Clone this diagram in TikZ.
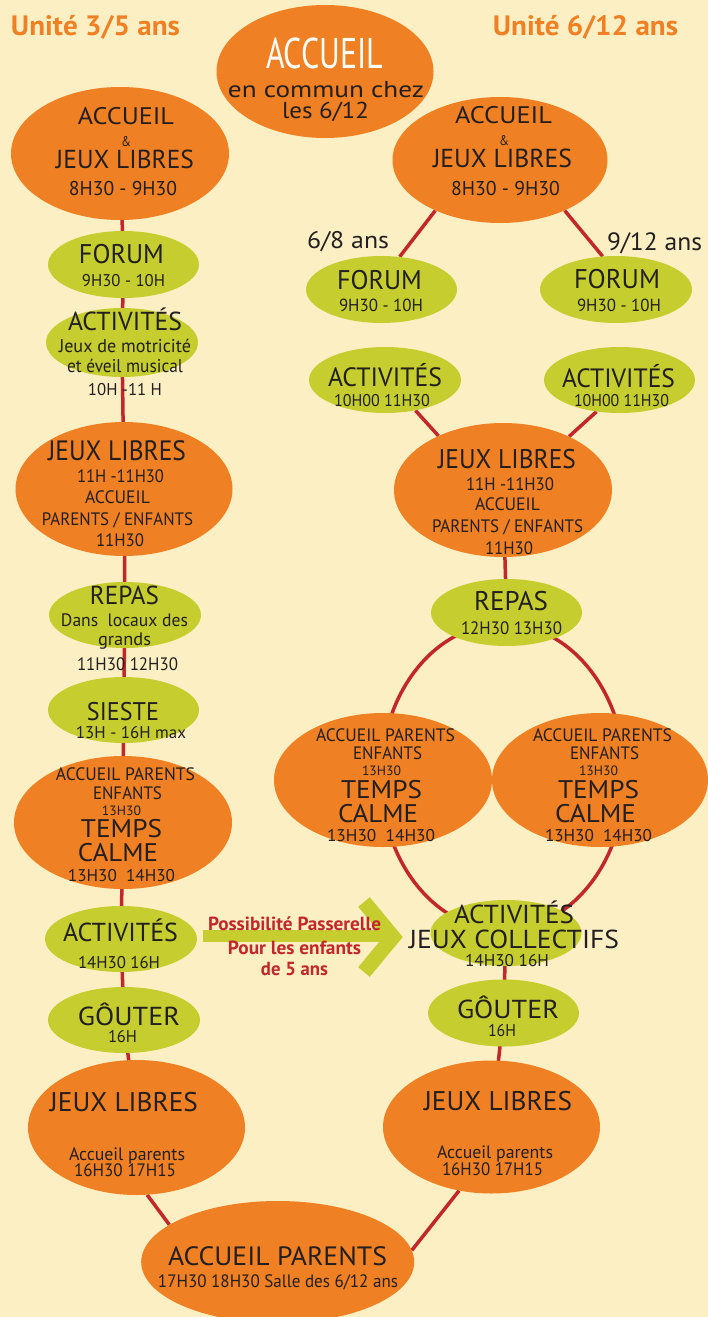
\documentclass[tikz,border=0pt]{standalone}
\usepackage{fontspec}
\setmainfont{PT Sans}
\usepackage{graphicx}
\usetikzlibrary{shapes.geometric,backgrounds}
\definecolor{bgC}{RGB}{252,239,195}
\definecolor{orC}{RGB}{239,128,35}
\definecolor{grC}{RGB}{197,206,46}
\definecolor{rdC}{RGB}{193,39,45}
\definecolor{txC}{RGB}{35,31,32}
\newcounter{tn}
\newcommand\T[6][]{\stepcounter{tn}\node[tline,#1] (t\arabic{tn}) at (#2,{#3+0.35*#4}) {\fontsize{#4}{#4}\selectfont\resizebox{#5pt}{\height}{#6}};}
\newcommand\E[6]{\node[#2,minimum width=#5,minimum height=#6] (#1) at (#3,#4) {};}
\begin{document}
\begin{tikzpicture}[x=1pt,y=-1pt,
  tline/.style={inner sep=0,anchor=base,text=txC},
  orE/.style={ellipse,fill=orC,draw=none,inner sep=0},
  grE/.style={ellipse,fill=grC,draw=none,inner sep=0},
  conn/.style={draw=rdC,line width=3.5pt},
  passe/.style={draw=grC,line width=#1},
  red/.style={text=rdC,font=\bfseries},
  ttl/.style={text=orC,font=\bfseries}]
\useasboundingbox (0,0) rectangle (708,1317);
% ellipses
\E{acTop}{orE}{325}{71.5}{217}{133}
\E{acL}{orE}{120}{153.5}{218}{133}
\E{acR}{orE}{500}{160}{215}{126}
\E{foL}{grE}{123.5}{264.5}{151}{67}
\E{atL}{grE}{122}{342.5}{152}{69}
\E{jlL}{orE}{124}{489}{217}{134}
\E{reL}{grE}{125}{615}{152}{66}
\E{siL}{grE}{123.5}{710}{151}{66}
\E{tcL}{orE}{123}{822.5}{218}{133}
\E{atL2}{grE}{121}{939}{152}{66}
\E{goL}{grE}{124}{1020}{152}{66}
\E{jlL2}{orE}{136.5}{1127.5}{217}{135}
\E{ap}{orE}{277.7}{1262}{273}{122}
\E{foRL}{grE}{381.5}{289.5}{151}{67}
\E{foRR}{grE}{616}{289.5}{152}{67}
\E{atRL}{grE}{385}{380}{152}{66}
\E{atRR}{grE}{619.5}{380}{151}{66}
\E{jlR}{orE}{503}{490}{218}{134}
\E{reR}{grE}{506.5}{612.5}{151}{67}
\E{tcRL}{orE}{383}{780}{218}{134}
\E{tcRR}{orE}{600}{780}{216}{134}
\E{atJC}{grE}{506}{933}{151}{66}
\E{goR}{grE}{503.5}{1013}{151}{67}
\E{jlR2}{orE}{491.5}{1127}{217}{133}
% background, connectors
\begin{pgfonlayer}{background}
\fill[bgC] (0,0) rectangle (708,1317);
\draw[conn] (acL.center) -- (foL.center) -- (atL.center) -- (jlL.center) -- (reL.center) -- (siL.center) -- (tcL.center) -- (atL2.center) -- (goL.center) -- (jlL2.center);
\draw[conn] (acR.218) -- (foRL.61);
\draw[conn] (acR.-38) -- (foRR.112);
\draw[conn] (atRL.-45) -- (jlR.140);
\draw[conn] (atRR.234) -- (jlR.39);
\draw[conn] (jlR.center) -- (reR.center);
\coordinate (loopc) at (503,777);
\draw[conn] (loopc) ellipse [x radius=122pt, y radius=153pt];
\draw[conn] (atJC.center) -- (goR.center) -- (jlR2.center);
\draw[conn] (jlL2.-81) -- (ap.161.8);
\draw[conn] (jlR2.243.8) -- (ap.5.6);
\end{pgfonlayer}
% passerelle arrow
\coordinate (ps) at (203,936);
\coordinate (pe) at (390,936);
\coordinate (ch1) at (364,902);
\coordinate (ch2) at (393,937);
\coordinate (ch3) at (364,972);
\draw[passe=12pt] (ps) -- (pe);
\draw[passe=15pt,line join=miter] (ch1) -- (ch2) -- (ch3);
% titles
\T[ttl]{95.5}{26}{28}{169}{Unité 3/5 ans}
\T[ttl]{585.5}{26}{28}{185}{Unité 6/12 ans}
% top
\T[text=white]{324.5}{53}{43}{117}{ACCUEIL}
\T{326}{89}{23}{196}{en commun chez}
\T{325.5}{110}{23}{87}{les 6/12}
% left accueil
\T{126}{116}{24}{96}{ACCUEIL}
\T{126}{142}{14}{10}{\&}
\T{125}{159}{26}{138}{JEUX LIBRES}
\T{123}{188}{20}{108}{8H30 - 9H30}
% right accueil
\T{503.5}{115}{24}{97}{ACCUEIL}
\T{504}{140.5}{14}{10}{\&}
\T{502.5}{158.5}{26}{139}{JEUX LIBRES}
\T{505.5}{188}{20}{109}{8H30 - 9H30}
\T{348}{240}{24}{82}{6/8 ans}
\T{654.5}{242}{25}{95}{9/12 ans}
% left column
\T{121.5}{254.5}{27}{85}{FORUM}
\T{123.5}{281}{17}{83}{9H30 - 10H}
\T{125}{321.5}{26}{114}{ACTIVITÉS}
\T{125}{346.5}{18.5}{132}{Jeux de motricité}
\T{125}{366.5}{18.5}{116}{et éveil musical}
\T{125}{390}{17}{74}{10H -11 H}
\T{117}{451}{28}{138}{JEUX LIBRES}
\T{120.5}{476.5}{18}{87}{11H -11H30}
\T{117.5}{497}{18}{65}{ACCUEIL}
\T{117.5}{519}{18}{151}{PARENTS / ENFANTS}
\T{120}{540}{18}{48}{11H30}
\T{124.5}{595}{26}{69}{REPAS}
\T{124.5}{619.7}{18}{127}{Dans~ locaux des}
\T{124.5}{638.7}{18}{53}{grands}
\T{127.5}{664.5}{18}{101}{11H30 12H30}
\T{123}{711.5}{25.5}{72}{SIESTE}
\T{131}{733}{17}{110}{13H - 16H max}
\T{125.5}{774.5}{18}{139}{ACCUEIL PARENTS}
\T{127.5}{793}{18}{69}{ENFANTS}
\T{121.5}{810.5}{13.5}{39}{13H30}
\T{121.5}{829}{25.5}{81}{TEMPS}
\T{118}{853}{25.5}{80}{CALME}
\T{121.5}{875.5}{17}{107}{13H30~ 14H30}
\T{120.5}{932.5}{26}{115}{ACTIVITÉS}
\T{119}{963}{17}{82}{14H30 16H}
\T{129}{1016}{26}{102}{GÔUTER}
\T{122.5}{1037}{17}{29}{16H}
\T{124}{1102.5}{27}{148}{JEUX LIBRES}
\T{127}{1153.7}{18}{116}{Accueil parents}
\T{125}{1170}{18}{102}{16H30 17H15}
\T{277.5}{1256}{26.5}{219}{ACCUEIL PARENTS}
\T{278}{1281.5}{18}{240}{17H30 18H30 Salle des 6/12 ans}
% right column
\T{379.5}{280}{27}{85}{FORUM}
\T{381}{305.5}{17.5}{84}{9H30 - 10H}
\T{617}{279.5}{27}{86}{FORUM}
\T{619}{305}{17.5}{84}{9H30 - 10H}
\T{385}{377.5}{26.5}{114}{ACTIVITÉS}
\T{382}{401}{17}{96}{10H00 11H30}
\T{618.5}{378}{26.5}{113}{ACTIVITÉS}
\T{621.5}{401}{17}{95}{10H00 11H30}
\T{507}{459}{27}{138}{JEUX LIBRES}
\T{510}{484}{18}{88}{11H -11H30}
\T{507.5}{504.5}{18}{65}{ACCUEIL}
\T{507.5}{526.5}{18}{151}{PARENTS / ENFANTS}
\T{509}{548}{18}{48}{11H30}
\T{511}{601.5}{27}{74}{REPAS}
\T{511.5}{628}{18}{101}{12H30 13H30}
\T{385.5}{735.5}{18}{139}{ACCUEIL PARENTS}
\T{387.5}{753.5}{18}{69}{ENFANTS}
\T{381.5}{770.5}{13.5}{39}{13H30}
\T{381.5}{789.5}{25.5}{81}{TEMPS}
\T{378}{814}{25.5}{80}{CALME}
\T{381}{836}{17}{108}{13H30~ 14H30}
\T{602.5}{735.5}{18}{139}{ACCUEIL PARENTS}
\T{604.5}{753.5}{18}{69}{ENFANTS}
\T{598.5}{770.5}{13.5}{39}{13H30}
\T{598.5}{789.5}{25.5}{81}{TEMPS}
\T{595.5}{814}{25.5}{81}{CALME}
\T{598.5}{836}{17}{107}{13H30~ 14H30}
\T{514}{914}{26}{120}{ACTIVITÉS}
\T{514}{939}{26}{210}{JEUX COLLECTIFS}
\T{507}{961}{17}{84}{14H30 16H}
\T{508}{1009}{26}{102}{GÔUTER}
\T{502}{1030.5}{17}{28}{16H}
\T{498}{1101}{27}{148}{JEUX LIBRES}
\T{495}{1152}{18}{116}{Accueil parents}
\T{492.5}{1169}{18}{101}{16H30 17H15}
% passerelle text
\T[red]{294.5}{923.5}{19}{173}{Possibilité Passerelle}
\T[red]{294.5}{948}{19}{133}{Pour les enfants}
\T[red]{294.5}{969}{19}{67}{de 5 ans}
\end{tikzpicture}
\end{document}
